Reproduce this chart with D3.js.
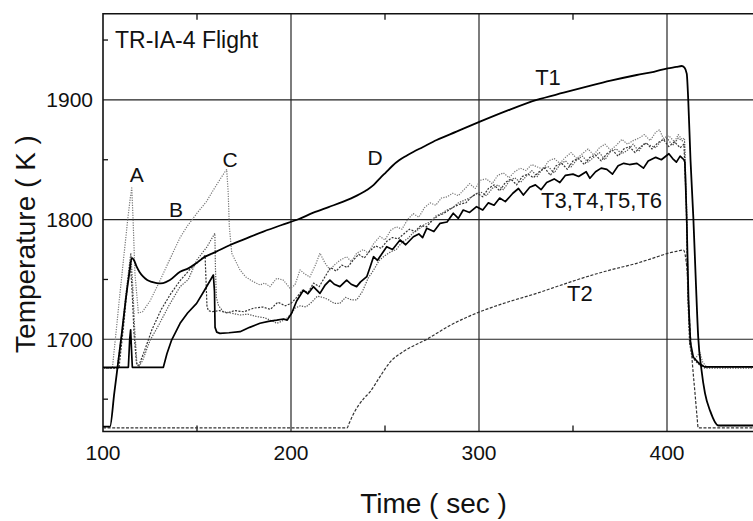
<!DOCTYPE html>
<html><head><meta charset="utf-8">
<script src="https://cdn.jsdelivr.net/npm/d3@7"></script>
<style>
html,body{margin:0;padding:0;background:#fff;}
svg{display:block;font-family:"Liberation Sans",Arial,Helvetica,sans-serif;}
</style></head>
<body>
<svg id="chart" width="753" height="521"></svg>
<script>
// ---- data ----
const xTicks = [100, 200, 300, 400];
const xMinorTicks = [150, 250, 350];
const yTicks = [1700, 1800, 1900];
const yMinorTicks = [1650, 1750, 1850, 1950];

const t1Time = [100,103.7,106,108,110,112,114,115.3,116.5,117.9,119.5,121.4,123.5,125.9,129.4,132,135.6,141,145.4,150,154.3,160,167.6,175,185.3,195,203.9,211.9,220,227.8,235,240.3,244,247.3,250.5,254,257.5,261,265,270,277.5,288,300.5,315,330.7,345,357.3,370,383.9,393,400.4,405,407.8,409.3,410.5,411.3,412.5,414,415.3,416.6,418.3,420.2,423,427.3,450];
const t1Temp = [1627,1627,1655,1680,1705,1732,1755,1768,1766,1760.7,1756,1752.3,1749.5,1748,1746.8,1747,1749.5,1756.5,1759.3,1764,1769,1773,1778.8,1783.5,1790,1795.5,1800.3,1805.8,1810.5,1815,1820,1824.7,1829,1834.5,1839.5,1845,1849.5,1853,1856.5,1860.5,1866.5,1873.5,1881.8,1891,1900,1906,1911,1916,1920.8,1923.5,1926.4,1927.5,1928.3,1927,1922,1900,1850,1802,1750,1702,1675,1655,1640,1628,1628];

const t2Time = [100,229.8,231,233,236,239,242,247,252.7,260,272.2,285,300.5,315,330.7,345,357.3,370,383.9,393,400.4,405,408.7,410.5,412.2,413.5,414.9,416,416.6,450];
const t2Temp = [1626,1626,1630,1637,1645,1651,1656,1668,1681,1690,1700,1712,1723,1731,1738.4,1746,1752.3,1758,1763.5,1768,1771.8,1773.5,1774.6,1760.7,1710,1680,1655,1635,1626,1626];

// solid member of T3..T6
const sTime = [100,113.5,114.2,114.7,115.2,115.6,132.1,134,136.5,141,145,149.8,154,158.7,159.3,159.6,160.5,162.2,167,172.9,178,183.5,188,192.4,196,198,200.4,203,206.6,209,211.9,215.4,218,220.7,223,226,229.6,232,234.9,237,240.3,242,243.9,246,250.9,254,258,261,265.1,268,270,272.2,276,279.3,283,286.3,289,291.6,295,298.7,302,305,308,311,314,318,321,323.6,327,330,333,336,340,343,346,350,353,357,359,362,365,368,371,374,377,380,384,387.5,390,394,397,401,403,405,407,409,409.5,410.5,411.5,412.5,414,417,420,450];
const sTemp = [1676.6,1676.6,1700,1708,1690,1676.6,1676.6,1688,1699.4,1713.4,1722,1730,1741,1753.7,1740,1710,1706,1705,1705.5,1706.4,1710,1713.4,1715,1716,1717,1716,1722,1732,1741,1738,1744,1738.4,1745,1749.5,1746,1744,1749.5,1746,1744,1748,1752.3,1760,1769,1766,1777.4,1775,1783,1779,1785.7,1788,1785,1792.7,1790,1796.9,1798,1805.3,1801,1808,1806,1810.8,1808,1814,1812,1818,1815,1822,1826,1820.5,1827,1829,1825,1831,1834,1831,1837,1838,1836,1840,1834.5,1840,1843,1842,1838,1845,1847,1846,1847,1843,1849,1852,1850,1855,1851,1848,1853,1850,1848,1800,1730,1697,1685,1680,1677,1677];

// dotted member with peaks A, B, C
const cTime = [100,105,107,109,111,113,114.5,115.3,116,117,118.8,121,125,130,135,141,145,149.8,155,158.7,162,164.9,165.8,166.6,167.2,168.5,172.9,176,180,183.5,186,188.8,192.4,195.9,199.5,202.1,204.8,207,210,213,215.4,218,220.7,223,226,229.6,232,235,238.5,241,244,247.3,250,253,256,259,262,265,268,271,274,277,280,283,286,289,292,295,298,301,304,307,310,313,316,319,322,325,328,331,334,337,340,343,346,349,352,355,358,361,364,367,370,373,376,379,382,385,388,391,394,396,398,401,404,406,408,409.3,410.3,411.2,412.2,413.5,415,416,417.5,419,421,450];
const cTemp = [1676,1676,1707,1738,1768,1798,1818,1826.5,1800,1755,1722,1723,1732,1748,1765,1785,1795,1805,1815,1824.7,1833,1840,1841.8,1822,1794,1771.8,1757.9,1752,1748.1,1745.4,1747,1744,1751,1749.5,1742.6,1745.4,1758,1755,1752,1762,1772,1764,1758,1762,1766,1769,1765,1772,1775,1772,1780,1786,1783,1791,1794,1792,1800,1805,1802,1810,1814,1812,1818,1819,1822,1820,1825,1830,1826,1833,1834,1830,1837,1839,1835,1840,1843,1841,1846,1844,1842,1849,1851,1847,1852,1856,1851,1855,1859,1854,1860,1863,1858,1862,1867,1863,1866,1868,1871,1866,1873,1875,1868,1870,1865,1871,1867,1868,1820,1740,1697,1687,1684,1686,1689,1681,1677,1677];

// dotted member peaking near 1789 K
const bTime = [100,107.5,110,112,114,114.8,115.8,116.8,118,119,121,125,130,135,141,145.4,149.8,155.2,159.5,159.8,160.3,161.5,164,168,172.9,177,181.8,186,189,192.4,195,197.7,200,202.1,205,208,211,214,217,220,223,226,229,232,235,238,241,244,247,250,253,256,259,262,265,268,271,274,277,280,283,286,289,292,295,298,301,304,307,310,313,316,319,322,325,328,331,334,337,340,343,346,349,352,355,358,361,364,367,370,373,376,379,382,385,388,391,394,397,400,403,406,408,409.3,410.3,411.2,412.2,413.5,415,417,420,450];
const bTemp = [1676,1676,1705,1735,1762,1772,1745,1710,1680,1677,1682,1699,1713,1728,1744,1750,1766,1777,1788.6,1760,1735,1728,1723,1722,1720.3,1721,1719,1718,1716,1713.4,1715,1717.5,1721,1726,1728,1727,1731,1736,1735,1733,1730,1730,1735,1733,1733,1740,1751,1758,1766,1770,1773,1775,1781,1784,1789,1792,1796,1798,1803,1805,1808,1810,1814,1816,1818,1821,1823,1820,1826,1829,1825,1832,1835,1831,1836,1841,1836,1843,1844,1839,1846,1849,1844,1850,1853,1848,1852,1856,1850,1857,1859,1855,1858,1863,1857,1864,1862,1860,1866,1868,1862,1868,1866,1865,1818,1738,1697,1686,1683,1680,1676,1676];

// dashed member dropping near 155 s
const dTime = [100,108.5,111,113,114.5,115.5,116.5,117.8,119,122,126,131,136,141,146,150,154.3,154.9,155.3,156,158,162,166,170,175,180,185,189,193,197,200,203,206,209,212,215,218,221,224,227,230,233,236,239,242,245,248,251,254,257,260,263,266,269,272,275,278,281,284,287,290,293,296,299,302,305,308,311,314,317,320,323,326,329,332,335,338,341,344,347,350,353,356,359,362,365,368,371,374,377,380,383,386,389,392,395,398,401,404,407,409,410.2,411,412,413.2,415,417,420,450];
const dTemp = [1676,1676,1712,1745,1765,1740,1705,1680,1678,1690,1708,1725,1738,1749,1758,1764,1770,1745,1728,1724,1723,1724,1722,1724,1723,1726,1727,1725,1731,1728,1730,1735,1741,1739,1747,1744,1752,1760,1757,1762,1760,1766,1771,1768,1774,1778,1776,1782,1785,1784,1788,1792,1790,1795,1794,1799,1803,1805,1808,1811,1813,1814,1819,1822,1819,1826,1829,1824,1831,1834,1829,1836,1838,1835,1840,1843,1837,1845,1847,1842,1849,1851,1846,1852,1854,1849,1855,1858,1853,1859,1861,1856,1861,1864,1859,1864,1867,1861,1865,1860,1863,1815,1740,1697,1686,1682,1679,1677,1677];

const labels = [
  {text:"TR-IA-4 Flight", t:106.4, v:1943, size:23, anchor:"start"},
  {text:"A", t:117.9, v:1831.7, size:21, anchor:"middle"},
  {text:"B", t:138.8, v:1802.4, size:21, anchor:"middle"},
  {text:"C", t:167.6, v:1844.2, size:21, anchor:"middle"},
  {text:"D", t:244.7, v:1845.6, size:21, anchor:"middle"},
  {text:"T1", t:336.7, v:1912.5, size:22, anchor:"middle"},
  {text:"T3,T4,T5,T6", t:365.2, v:1809.5, size:22, anchor:"middle"},
  {text:"T2", t:353.7, v:1732.3, size:22, anchor:"middle"}
];

// ---- drawing ----
const svg = d3.select("#chart");
const x = d3.scaleLinear().domain([100, 450]).range([103, 761]);
const y = d3.scaleLinear().domain([1623, 1972]).range([431.5, 13.7]);
const X0 = x(100), X1 = x(450), Y0 = y(1623), Y1 = y(1972);

svg.append("defs").append("clipPath").attr("id","clip")
  .append("rect").attr("x",X0).attr("y",Y1).attr("width",X1-X0).attr("height",Y0-Y1);

const grid = svg.append("g");
xTicks.slice(1).forEach(v => grid.append("line").attr("x1",x(v)).attr("x2",x(v)).attr("y1",Y1).attr("y2",Y0)
  .attr("stroke","#111").attr("stroke-width",1.1));
yTicks.forEach(v => grid.append("line").attr("x1",X0).attr("x2",X1).attr("y1",y(v)).attr("y2",y(v))
  .attr("stroke","#222").attr("stroke-width",1.1));

// minor ticks (inward)
xMinorTicks.forEach(v => {
  grid.append("line").attr("x1",x(v)).attr("x2",x(v)).attr("y1",Y0).attr("y2",Y0-6).attr("stroke","#111").attr("stroke-width",1.3);
  grid.append("line").attr("x1",x(v)).attr("x2",x(v)).attr("y1",Y1).attr("y2",Y1+6).attr("stroke","#111").attr("stroke-width",1.3);
});
yMinorTicks.forEach(v => grid.append("line").attr("x1",X0).attr("x2",X0+5).attr("y1",y(v)).attr("y2",y(v)).attr("stroke","#111").attr("stroke-width",1.3));

// frame
svg.append("path").attr("d",`M${X1},${Y1}H${X0}V${Y0}H${X1}`).attr("fill","none").attr("stroke","#111").attr("stroke-width",1.6);

// series
const lineLin = d3.line().x(d => x(d[0])).y(d => y(d[1]));
const lineSmooth = d3.line().x(d => x(d[0])).y(d => y(d[1])).curve(d3.curveMonotoneX);
const series = [
  {t:t2Time, v:t2Temp, color:"#333", w:1.2, dash:"3,1.6", smooth:true},
  {t:cTime, v:cTemp, color:"#777", w:1.2, dash:"1.2,1.3"},
  {t:dTime, v:dTemp, color:"#333", w:1.2, dash:"2,1.4"},
  {t:bTime, v:bTemp, color:"#555", w:1.2, dash:"1.3,1.3"},
  {t:sTime, v:sTemp, color:"#000", w:1.7, dash:null},
  {t:t1Time, v:t1Temp, color:"#000", w:1.8, dash:null, smooth:true}
];
const plot = svg.append("g").attr("clip-path","url(#clip)");
series.forEach(s => {
  const pts = s.t.map((t,i) => [t, s.v[i]]);
  const p = plot.append("path").datum(pts).attr("d", s.smooth ? lineSmooth : lineLin)
    .attr("fill","none").attr("stroke", s.color).attr("stroke-width", s.w)
    .attr("stroke-linejoin","round");
  if (s.dash) p.attr("stroke-dasharray", s.dash);
});

// tick labels
xTicks.forEach(v => svg.append("text").attr("x",x(v)).attr("y",460).attr("text-anchor","middle")
  .attr("font-size",21).attr("fill","#111").text(v));
yTicks.forEach(v => svg.append("text").attr("x",93).attr("y",y(v)+7.5).attr("text-anchor","end")
  .attr("font-size",21).attr("fill","#111").text(v));

// axis titles
svg.append("text").attr("x",433.5).attr("y",513).attr("text-anchor","middle")
  .attr("font-size",28).attr("fill","#111").text("Time ( sec )");
svg.append("text").attr("transform","translate(35,244) rotate(-90)").attr("text-anchor","middle")
  .attr("font-size",28).attr("fill","#111").text("Temperature ( K )");

// in-plot labels
labels.forEach(l => svg.append("text").attr("x",x(l.t)).attr("y",y(l.v)).attr("text-anchor",l.anchor)
  .attr("font-size",l.size).attr("fill","#111").text(l.text));
</script>
</body></html>
